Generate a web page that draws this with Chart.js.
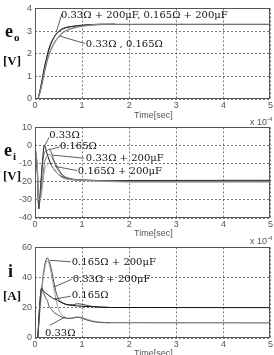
<!DOCTYPE html>
<html><head><meta charset="utf-8">
<script src="https://cdn.jsdelivr.net/npm/chart.js@4.4.1/dist/chart.umd.min.js"></script>
<style>
html,body{margin:0;padding:0;background:#fff;}
#wrap{position:relative;width:274px;height:355px;overflow:hidden;background:#fff;}
canvas{position:absolute;left:0;}
.yl{position:absolute;font-family:"Liberation Serif",serif;font-weight:bold;color:#111;white-space:nowrap;}
.big{font-size:18px;line-height:18px;}
.unit{font-size:13px;line-height:14px;}
.sub{font-size:11px;position:relative;top:4px;margin-left:1px;}
.tt{position:absolute;font-family:"Liberation Sans",sans-serif;font-size:9px;line-height:10px;color:#555;white-space:nowrap;}
.tt sup{font-size:6px;vertical-align:4px;}
</style></head>
<body><div id="wrap">
<canvas id="c1" width="274" height="120" style="top:0"></canvas>
<canvas id="c2" width="274" height="120" style="top:119px"></canvas>
<canvas id="c3" width="274" height="120" style="top:239px"></canvas>

<div class="yl big" style="left:5px;top:22px">e<span class="sub">o</span></div>
<div class="yl unit" style="left:3px;top:54px">[V]</div>
<div class="yl big" style="left:4px;top:141px">e<span class="sub">i</span></div>
<div class="yl unit" style="left:3px;top:169px">[V]</div>
<div class="yl big" style="left:8px;top:262px">i</div>
<div class="yl unit" style="left:3px;top:289px">[A]</div>

<div class="tt" style="left:134px;top:110px">Time[sec]</div>
<div class="tt" style="left:250px;top:114px">x 10<sup>-4</sup></div>
<div class="tt" style="left:134px;top:228px">Time[sec]</div>
<div class="tt" style="left:250px;top:233px">x 10<sup>-4</sup></div>
<div class="tt" style="left:134px;top:348px">Time[sec]</div>
</div>
<script>
// ---- Panel 1: e_o [V] ----
const eoTime      = [0, 0.05, 0.1, 0.15, 0.2, 0.25, 0.3, 0.4, 0.5, 0.6, 0.8, 1.0, 1.2, 1.5, 1.7, 5];
const eoCap033    = [0, 0, 0.3, 0.8, 1.35, 1.8, 2.2, 2.7, 2.97, 3.1, 3.2, 3.25, 3.28, 3.3, 3.3, 3.3];
const eoCap0165   = [0, 0, 0.32, 0.85, 1.4, 1.85, 2.25, 2.72, 2.98, 3.12, 3.21, 3.26, 3.29, 3.3, 3.3, null];
const eoRes033    = [0, 0, 0.22, 0.65, 1.15, 1.6, 1.95, 2.42, 2.72, 2.93, 3.12, 3.21, 3.26, 3.29, 3.3, null];
const eoRes0165   = [0, 0, 0.25, 0.7, 1.2, 1.65, 2.0, 2.47, 2.76, 2.96, 3.14, 3.22, 3.27, 3.3, 3.3, null];
const eoTicks = [0, 1, 2, 3, 4];

// ---- Panel 2: e_i [V] ----
const eiTime      = [0, 0.05, 0.08, 0.12, 0.16, 0.2, 0.25, 0.3, 0.35, 0.4, 0.5, 0.6, 0.8, 1.0, 1.3, 1.6, 2.0, 5];
const ei033       = [0, -15, -35, -22, -8, 0, -4, -8, -11, -13, -16, -17.5, -18.8, -19.1, -19.3, -19.4, -19.3, -19.2];
const ei0165      = [0, -15, -34, -25, -10, -4, -3, -2, -4, -8, -13, -16.5, -18.5, -19, -19.3, -19.5, -19.6, -19.6];
const eiCap033    = [0, -12, -30, -28, -18, -10, -6, -5, -6, -9, -14, -17, -18.8, -19.2, -19.5, -19.7, -19.9, -19.9];
const eiCap0165   = [0, -12, -30, -29, -22, -14, -11, -10, -11, -13, -16, -18, -19, -19.3, -19.6, -19.9, -20.2, -20.2];
const eiTicks = [-40, -30, -20, -10, 0, 10];

// ---- Panel 3: i [A] ----
const iTime       = [0.06, 0.1, 0.14, 0.18, 0.22, 0.26, 0.3, 0.35, 0.4, 0.45, 0.5, 0.6, 0.7, 0.8, 0.9, 1.0, 1.2, 1.4, 1.6, 5];
const iCap0165    = [0, 18, 32, 43, 50, 53, 51, 45, 37, 30, 26, 23, 22, 22, 22.7, 22.3, 21, 20.5, 20.2, null];
const iCap033     = [0, 17, 30, 41, 48, 51, 49, 42, 33, 25, 19, 14.5, 13, 13, 14, 13.5, 11.5, 10.4, 10.1, null];
const iRes0165    = [0, 22, 33, 31, 30, 29, 28, 27, 26, 25.5, 24.5, 23, 22, 21.5, 21.3, 21, 20.7, 20.4, 20.2, 20.1];
const iRes033     = [0, 22, 33, 30, 27, 25, 21, 19, 17, 16, 15, 13.5, 13, 13.3, 13.8, 13, 11, 10.3, 10.1, 10];
const iTicks = [0, 20, 40, 60];

const timeTicks = [0, 1, 2, 3, 4, 5];

function pts(t, v){ return t.map((x,i)=>({x:x, y:v[i]})); }

const boxPlugin = {
  id:'boxAnn',
  afterDraw(chart){
    const ctx = chart.ctx, a = chart.chartArea;
    ctx.save();
    ctx.strokeStyle = '#555'; ctx.lineWidth = 1; ctx.setLineDash([]);
    ctx.strokeRect(Math.round(a.left)+0.5, Math.round(a.top)+0.5, Math.round(a.right-a.left)-1, Math.round(a.bottom-a.top)-1);
    const xs = chart.scales.x, ys = chart.scales.y;
    const anns = chart.options.plugins.boxAnn.items || [];
    ctx.font = '10px "DejaVu Serif", serif';
    ctx.fillStyle = '#111'; ctx.textBaseline = 'middle'; ctx.textAlign = 'left';
    ctx.strokeStyle = '#333'; ctx.lineWidth = 0.8;
    anns.forEach(n => {
      ctx.beginPath();
      ctx.moveTo(xs.getPixelForValue(n.l[0]), ys.getPixelForValue(n.l[1]));
      ctx.lineTo(xs.getPixelForValue(n.l[2]), ys.getPixelForValue(n.l[3]));
      ctx.stroke();
      ctx.fillText(n.t, xs.getPixelForValue(n.x), ys.getPixelForValue(n.y));
    });
    ctx.restore();
  }
};

function panel(id, yMin, yMax, yTicks, sets, anns){
  new Chart(document.getElementById(id), {
    type:'line',
    data:{ datasets: sets.map(s => ({
      data: s.d, borderColor: s.c, borderWidth: s.w || 1, pointRadius: 0,
      tension: 0.35, cubicInterpolationMode:'monotone', fill:false, spanGaps:false
    })) },
    options:{
      responsive:false, animation:false, devicePixelRatio:1,
      layout:{ padding:{ top:7, right:2, left:0, bottom:0 } },
      plugins:{ legend:{display:false}, tooltip:{enabled:false}, boxAnn:{ items: anns } },
      scales:{
        x:{ type:'linear', min:0, max:5,
            afterBuildTicks: s => { s.ticks = timeTicks.map(v => ({value:v})); },
            afterFit: s => { s.height = 21; },
            ticks:{ font:{ family:'"Liberation Sans", sans-serif', size:9 }, color:'#555', padding:1, maxRotation:0 },
            grid:{ color:'#555', lineWidth:0.8, drawTicks:false },
            border:{ display:false, dash:[2,2] } },
        y:{ type:'linear', min:yMin, max:yMax,
            afterBuildTicks: s => { s.ticks = yTicks.map(v => ({value:v})); },
            afterFit: s => { s.width = 35; },
            ticks:{ font:{ family:'"Liberation Sans", sans-serif', size:9 }, color:'#555', padding:3 },
            grid:{ color:'#555', lineWidth:0.8, drawTicks:false },
            border:{ display:false, dash:[2,2] } }
      }
    },
    plugins:[boxPlugin]
  });
}

panel('c1', 0, 4, eoTicks, [
  { d: pts(eoTime, eoRes033),  c:'#777' },
  { d: pts(eoTime, eoRes0165), c:'#999' },
  { d: pts(eoTime, eoCap0165), c:'#222' },
  { d: pts(eoTime, eoCap033),  c:'#444' }
], [
  { t:'0.33Ω + 200μF, 0.165Ω + 200μF', x:0.55, y:3.7, l:[0.57,3.75,0.45,2.95] },
  { t:'0.33Ω , 0.165Ω', x:1.08, y:2.43, l:[1.06,2.45,0.52,2.78] }
]);

panel('c2', -40, 10, eiTicks, [
  { d: pts(eiTime, eiCap0165), c:'#999' },
  { d: pts(eiTime, eiCap033),  c:'#777' },
  { d: pts(eiTime, ei0165),    c:'#555' },
  { d: pts(eiTime, ei033),     c:'#111' }
], [
  { t:'0.165Ω + 200μF', x:0.91, y:-14.2, l:[0.89,-13.8,0.42,-11.5] },
  { t:'0.33Ω + 200μF', x:1.08, y:-7.2, l:[1.04,-7.0,0.38,-5.3] },
  { t:'0.165Ω', x:0.53, y:-0.4, l:[0.52,-0.8,0.31,-2.2] },
  { t:'0.33Ω', x:0.3, y:5.4, l:[0.3,4.5,0.2,-0.3] }
]);

panel('c3', 0, 60, iTicks, [
  { d: pts(iTime, iRes033),   c:'#555' },
  { d: pts(iTime, iRes0165),  c:'#111' },
  { d: pts(iTime, iCap033),   c:'#999' },
  { d: pts(iTime, iCap0165),  c:'#444' }
], [
  { t:'0.165Ω + 200μF', x:0.78, y:50.1, l:[0.76,50.5,0.32,51.4] },
  { t:'0.33Ω + 200μF', x:0.8, y:38.9, l:[0.78,38.9,0.42,34] },
  { t:'0.165Ω', x:0.78, y:28.4, l:[0.76,27.7,0.42,25.8] },
  { t:'0.33Ω', x:0.21, y:3.3, l:[0.32,8.4,0.64,14] }
]);
</script>
</body></html>
